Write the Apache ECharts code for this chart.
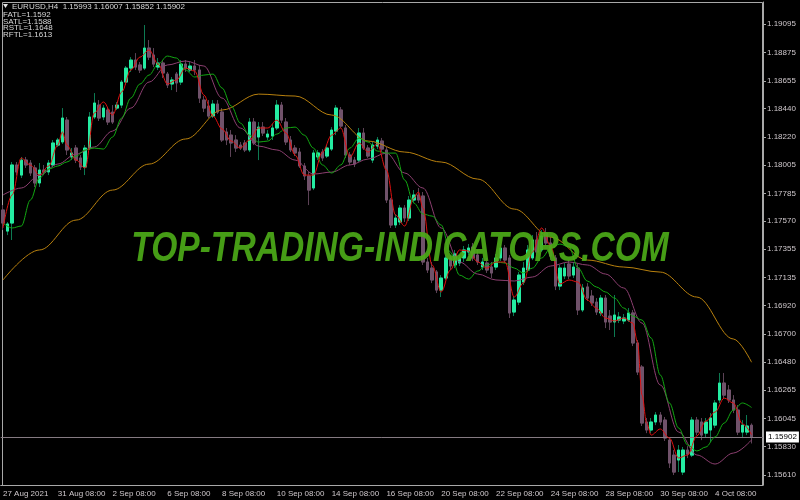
<!DOCTYPE html>
<html>
<head>
<meta charset="utf-8">
<script src="https://cdn.jsdelivr.net/npm/echarts@6/dist/echarts.min.js"></script>
<style>
  html, body { margin: 0; padding: 0; background: #000; }
  #chart { width: 800px; height: 500px; }
</style>
</head>
<body>
<div id="chart"></div>
<script>
// EURUSD H4 bars, one per slot: [open, close, low, high]
const ohlc = [
  [1.17657, 1.17556, 1.17502, 1.17695], [1.17494, 1.17549, 1.17463, 1.17564], [1.17556, 1.18005, 1.17425, 1.18028],
  [1.18005, 1.17951, 1.17927, 1.18028], [1.17927, 1.18043, 1.17904, 1.18067], [1.18043, 1.18005, 1.17982, 1.18067],
  [1.18020, 1.17943, 1.17920, 1.18043], [1.17982, 1.17866, 1.17835, 1.18005], [1.17866, 1.17966, 1.17835, 1.18020],
  [1.17966, 1.17951, 1.17927, 1.18005], [1.17951, 1.18020, 1.17927, 1.18043], [1.18005, 1.18175, 1.17989, 1.18198],
  [1.18159, 1.18198, 1.18144, 1.18214], [1.18183, 1.18368, 1.18167, 1.18445], [1.18352, 1.18121, 1.18082, 1.18376],
  [1.18067, 1.18098, 1.18043, 1.18136], [1.18136, 1.18043, 1.18020, 1.18159], [1.18059, 1.17989, 1.17966, 1.18082],
  [1.17989, 1.18136, 1.17927, 1.18159], [1.18136, 1.18376, 1.18121, 1.18414], [1.18376, 1.18484, 1.18360, 1.18561],
  [1.18468, 1.18368, 1.18345, 1.18507], [1.18376, 1.18445, 1.18352, 1.18468], [1.18430, 1.18337, 1.18314, 1.18453],
  [1.18414, 1.18337, 1.18322, 1.18468], [1.18445, 1.18468, 1.18430, 1.18492], [1.18468, 1.18646, 1.18445, 1.18662],
  [1.18646, 1.18754, 1.18623, 1.18770], [1.18754, 1.18816, 1.18724, 1.18839], [1.18816, 1.18762, 1.18739, 1.18870],
  [1.18778, 1.18739, 1.18716, 1.18801], [1.18754, 1.18909, 1.18739, 1.19087], [1.18909, 1.18839, 1.18816, 1.18971],
  [1.18855, 1.18785, 1.18762, 1.18909], [1.18762, 1.18793, 1.18739, 1.18832], [1.18793, 1.18716, 1.18677, 1.18816],
  [1.18708, 1.18623, 1.18600, 1.18724], [1.18631, 1.18662, 1.18584, 1.18685], [1.18708, 1.18639, 1.18569, 1.18724],
  [1.18646, 1.18785, 1.18623, 1.18816], [1.18785, 1.18754, 1.18724, 1.18816], [1.18739, 1.18770, 1.18724, 1.18801],
  [1.18770, 1.18739, 1.18700, 1.18816], [1.18739, 1.18522, 1.18484, 1.18778], [1.18507, 1.18445, 1.18414, 1.18538],
  [1.18461, 1.18383, 1.18368, 1.18507], [1.18383, 1.18476, 1.18368, 1.18507], [1.18476, 1.18414, 1.18399, 1.18507],
  [1.18414, 1.18198, 1.18183, 1.18445], [1.18260, 1.18198, 1.18159, 1.18291], [1.18236, 1.18175, 1.18067, 1.18275],
  [1.18198, 1.18136, 1.18105, 1.18236], [1.18159, 1.18136, 1.18121, 1.18183], [1.18175, 1.18121, 1.18105, 1.18198],
  [1.18121, 1.18337, 1.18105, 1.18368], [1.18337, 1.18175, 1.18159, 1.18368], [1.18221, 1.18298, 1.18043, 1.18337],
  [1.18298, 1.18252, 1.18229, 1.18337], [1.18221, 1.18244, 1.18198, 1.18275], [1.18229, 1.18291, 1.18198, 1.18322],
  [1.18291, 1.18468, 1.18275, 1.18507], [1.18468, 1.18352, 1.18329, 1.18492], [1.18337, 1.18183, 1.18159, 1.18368],
  [1.18198, 1.18121, 1.18105, 1.18229], [1.18136, 1.18098, 1.18074, 1.18159], [1.18105, 1.17997, 1.17982, 1.18136],
  [1.17997, 1.17920, 1.17889, 1.18020], [1.17920, 1.17811, 1.17695, 1.17951], [1.17827, 1.18098, 1.17811, 1.18121],
  [1.18067, 1.18098, 1.18043, 1.18121], [1.18105, 1.18059, 1.18036, 1.18128], [1.18074, 1.18136, 1.18059, 1.18159],
  [1.18128, 1.18275, 1.18113, 1.18298], [1.18267, 1.18445, 1.18236, 1.18468], [1.18430, 1.18306, 1.18291, 1.18453],
  [1.18291, 1.18082, 1.18059, 1.18314], [1.18082, 1.18028, 1.18005, 1.18105], [1.18043, 1.18012, 1.17989, 1.18067],
  [1.18043, 1.18252, 1.18028, 1.18291], [1.18252, 1.18136, 1.18121, 1.18291], [1.18136, 1.18074, 1.18059, 1.18159],
  [1.18043, 1.18159, 1.18020, 1.18183], [1.18151, 1.18198, 1.18128, 1.18221], [1.18190, 1.18128, 1.18105, 1.18214],
  [1.18121, 1.17734, 1.17711, 1.18144], [1.17734, 1.17541, 1.17518, 1.17750], [1.17541, 1.17595, 1.17518, 1.17626],
  [1.17564, 1.17672, 1.17541, 1.17695], [1.17672, 1.17595, 1.17564, 1.17695], [1.17595, 1.17734, 1.17572, 1.17765],
  [1.17734, 1.17773, 1.17711, 1.17811], [1.17773, 1.17734, 1.17711, 1.17827], [1.17765, 1.17255, 1.17232, 1.17796],
  [1.17255, 1.17193, 1.17170, 1.17286], [1.17208, 1.17116, 1.17092, 1.17255], [1.17178, 1.17038, 1.17015, 1.17193],
  [1.17038, 1.17131, 1.16984, 1.17154], [1.17131, 1.17286, 1.17116, 1.17309], [1.17286, 1.17224, 1.17193, 1.17309],
  [1.17232, 1.17317, 1.17208, 1.17348], [1.17247, 1.17286, 1.17224, 1.17309], [1.17286, 1.17348, 1.17255, 1.17379],
  [1.17332, 1.17363, 1.17309, 1.17394], [1.17371, 1.17286, 1.17262, 1.17402], [1.17309, 1.17255, 1.17232, 1.17348],
  [1.17216, 1.17255, 1.17193, 1.17286], [1.17247, 1.17193, 1.17170, 1.17286], [1.17216, 1.17170, 1.17131, 1.17255],
  [1.17216, 1.17286, 1.17193, 1.17317], [1.17286, 1.17363, 1.17262, 1.17394], [1.17363, 1.17270, 1.17247, 1.17386],
  [1.17286, 1.16861, 1.16822, 1.17309], [1.16868, 1.16961, 1.16837, 1.16992], [1.16945, 1.17154, 1.16922, 1.17178],
  [1.17100, 1.17208, 1.17077, 1.17255], [1.17193, 1.17348, 1.17178, 1.17386], [1.17286, 1.17425, 1.17270, 1.17463],
  [1.17425, 1.17332, 1.17309, 1.17487], [1.17348, 1.17456, 1.17332, 1.17502], [1.17479, 1.17402, 1.17379, 1.17518],
  [1.17402, 1.17301, 1.17270, 1.17448], [1.17286, 1.17069, 1.17038, 1.17309], [1.17069, 1.17208, 1.17038, 1.17232],
  [1.17147, 1.17208, 1.17123, 1.17247], [1.17239, 1.17147, 1.17123, 1.17270], [1.17154, 1.17216, 1.17131, 1.17255],
  [1.17208, 1.16884, 1.16845, 1.17239], [1.16884, 1.17054, 1.16868, 1.17085], [1.17062, 1.16976, 1.16953, 1.17092],
  [1.16992, 1.16938, 1.16915, 1.17038], [1.16945, 1.16868, 1.16845, 1.16976], [1.16861, 1.16976, 1.16837, 1.17000],
  [1.16976, 1.16791, 1.16744, 1.17000], [1.16837, 1.16791, 1.16729, 1.16884], [1.16791, 1.16845, 1.16675, 1.17000],
  [1.16806, 1.16830, 1.16783, 1.16868], [1.16799, 1.16822, 1.16775, 1.16853], [1.16806, 1.16861, 1.16791, 1.16899],
  [1.16861, 1.16629, 1.16605, 1.16884], [1.16629, 1.16404, 1.16381, 1.16652], [1.16443, 1.16010, 1.15987, 1.16458],
  [1.16018, 1.15956, 1.15932, 1.16049], [1.15956, 1.16018, 1.15932, 1.16049], [1.16018, 1.16072, 1.15994, 1.16095],
  [1.16072, 1.16018, 1.15994, 1.16095], [1.16033, 1.15894, 1.15871, 1.16057], [1.15878, 1.15701, 1.15662, 1.15902],
  [1.15762, 1.15631, 1.15608, 1.15801], [1.15724, 1.15801, 1.15631, 1.15840], [1.15631, 1.15801, 1.15608, 1.15825],
  [1.15801, 1.15770, 1.15739, 1.15832], [1.15762, 1.16033, 1.15747, 1.16057], [1.16033, 1.15940, 1.15917, 1.16057],
  [1.16018, 1.15917, 1.15878, 1.16049], [1.15932, 1.16018, 1.15902, 1.16049], [1.15956, 1.16049, 1.15863, 1.16087],
  [1.15994, 1.16165, 1.15971, 1.16188], [1.16188, 1.16319, 1.16165, 1.16397], [1.16319, 1.16226, 1.16203, 1.16397],
  [1.16265, 1.16188, 1.16165, 1.16304], [1.16188, 1.16110, 1.16087, 1.16226], [1.16110, 1.15940, 1.15917, 1.16149],
  [1.15940, 1.15994, 1.15894, 1.16033], [1.15940, 1.15987, 1.15917, 1.16072], [1.15993, 1.15902, 1.15852, 1.16007]
];

// indicator lines, [bar index, value]
const fatl = [
  [0, 1.17518], [2, 1.17773], [4, 1.18059], [6, 1.18005], [8, 1.17927], [10, 1.17997], [12, 1.18159], [13, 1.18260],
  [14, 1.18159], [16, 1.18043], [18, 1.17981], [20, 1.18407], [22, 1.18492], [24, 1.18391], [26, 1.18569], [28, 1.18739],
  [30, 1.18839], [32, 1.18894], [34, 1.18785], [36, 1.18631], [38, 1.18662], [40, 1.18754], [42, 1.18731], [44, 1.18546],
  [46, 1.18383], [48, 1.18283], [50, 1.18190], [52, 1.18136], [54, 1.18198], [56, 1.18291], [58, 1.18291], [60, 1.18352],
  [62, 1.18252], [64, 1.18082], [66, 1.17927], [68, 1.17927], [70, 1.18105], [72, 1.18236], [74, 1.18291], [76, 1.18066],
  [78, 1.18175], [80, 1.18105], [82, 1.18167], [84, 1.17966], [86, 1.17618], [88, 1.17533], [90, 1.17749], [91, 1.17796],
  [92, 1.17672], [94, 1.17232], [96, 1.17023], [98, 1.17193], [100, 1.17348], [102, 1.17340], [104, 1.17255], [106, 1.17208],
  [108, 1.17255], [110, 1.17255], [112, 1.16984], [114, 1.17092], [116, 1.17332], [118, 1.17518], [120, 1.17378], [122, 1.17085],
  [124, 1.17116], [126, 1.17100], [128, 1.16961], [130, 1.16899], [132, 1.16822], [134, 1.16799], [136, 1.16822], [138, 1.16783],
  [139, 1.16636], [140, 1.16226], [141, 1.16010], [142, 1.15917], [144, 1.15964], [146, 1.15894], [148, 1.15740], [150, 1.15763],
  [152, 1.15910], [154, 1.16026], [156, 1.16095], [158, 1.16203], [160, 1.16165], [162, 1.16003], [164, 1.1592]
];
const satl = [
  [0, 1.17773], [4, 1.17827], [8, 1.17927], [12, 1.18012], [16, 1.18090], [20, 1.18144], [24, 1.18267], [28, 1.18445],
  [32, 1.18646], [36, 1.18778], [40, 1.18809], [44, 1.18770], [48, 1.18522], [52, 1.18291], [56, 1.18151], [60, 1.18121],
  [64, 1.18043], [68, 1.17935], [72, 1.17950], [76, 1.18005], [80, 1.18051], [84, 1.18097], [88, 1.17943], [92, 1.17827],
  [96, 1.17518], [100, 1.17255], [104, 1.17162], [108, 1.17116], [112, 1.17108], [116, 1.17139], [120, 1.17224], [124, 1.17255],
  [128, 1.17232], [132, 1.17162], [136, 1.17054], [140, 1.16783], [144, 1.16304], [148, 1.15941], [152, 1.15763], [156, 1.15693],
  [160, 1.15778], [164, 1.1588]
];
const rstl = [
  [0, 1.17116], [8, 1.17348], [16, 1.17579], [24, 1.17811], [32, 1.18012], [40, 1.18206], [48, 1.18430], [56, 1.18553],
  [64, 1.18538], [72, 1.18391], [80, 1.18190], [88, 1.18105], [96, 1.18028], [104, 1.17896], [112, 1.17664], [120, 1.17448],
  [128, 1.17270], [136, 1.17216], [144, 1.17177], [152, 1.16984], [160, 1.16660], [164, 1.1648]
];
const rftl = [
  [0, 1.17556], [2, 1.17518], [4, 1.17533], [6, 1.17734], [8, 1.17904], [10, 1.17974], [12, 1.17997], [14, 1.18028],
  [16, 1.18074], [18, 1.18121], [20, 1.18136], [22, 1.18128], [24, 1.18221], [26, 1.18368], [28, 1.18522], [30, 1.18631],
  [32, 1.18700], [34, 1.18785], [36, 1.18847], [38, 1.18832], [40, 1.18739], [42, 1.18685], [44, 1.18700], [46, 1.18708],
  [48, 1.18600], [50, 1.18461], [52, 1.18329], [54, 1.18236], [56, 1.18182], [58, 1.18190], [60, 1.18244], [62, 1.18291],
  [64, 1.18298], [66, 1.18236], [68, 1.18136], [70, 1.18005], [72, 1.17943], [74, 1.18005], [76, 1.18136], [78, 1.18213],
  [80, 1.18182], [82, 1.18113], [84, 1.18097], [86, 1.18097], [88, 1.17889], [90, 1.17711], [92, 1.17626], [94, 1.17610],
  [96, 1.17541], [98, 1.17332], [100, 1.17154], [102, 1.17123], [104, 1.17185], [106, 1.17232], [108, 1.17255], [110, 1.17247],
  [112, 1.17208], [114, 1.17170], [116, 1.17208], [118, 1.17286], [120, 1.17363], [122, 1.17394], [124, 1.17371], [126, 1.17208],
  [128, 1.17108], [130, 1.17062], [132, 1.17023], [134, 1.16976], [136, 1.16899], [138, 1.16837], [140, 1.16806], [142, 1.16667],
  [144, 1.16381], [146, 1.16165], [148, 1.15972], [150, 1.15840], [152, 1.15794], [154, 1.15825], [156, 1.15902], [158, 1.16010],
  [160, 1.16111], [162, 1.16165], [164, 1.1613]
];

const timeLabels = ['27 Aug 2021', '31 Aug 08:00', '2 Sep 08:00', '6 Sep 08:00', '8 Sep 08:00', '10 Sep 08:00',
  '14 Sep 08:00', '16 Sep 08:00', '20 Sep 08:00', '22 Sep 08:00', '24 Sep 08:00', '28 Sep 08:00', '30 Sep 08:00', '4 Oct 08:00'];
const priceTicks = [1.19095, 1.18875, 1.18655, 1.18440, 1.18220, 1.18005, 1.17785, 1.17570, 1.17355,
  1.17135, 1.16920, 1.16700, 1.16480, 1.16265, 1.16045, 1.15830, 1.15610];
const lastPrice = 1.15902;
const slotCount = 167;   // bar slots on screen, incl. the empty shift at the right
const labelStep = 12;    // one time label every 12 bars

const slots = Array.from({ length: slotCount }, (_, i) => i);
// bodies only, drawn over the full candles so wicks keep their darker colour
const bodies = ohlc.map(([o, c]) => [o, c, Math.min(o, c), Math.max(o, c)]);

const font = '"Liberation Sans", Arial, sans-serif';
const last = ohlc[ohlc.length - 1];
const header = 'EURUSD,H4  ' + [last[0], last[3], last[2], last[1]].map(v => v.toFixed(5)).join(' ');
const legendRows = [
  ['FATL', fatl], ['SATL', satl], ['RSTL', rstl], ['RFTL', rftl]
].map(([name, s]) => name + '=' + s[s.length - 1][1].toFixed(4));

const lineSeries = (name, data, color) => ({
  name, type: 'line', data, showSymbol: false, smooth: 0.35, smoothMonotone: 'x',
  lineStyle: { color, width: 1 }, z: 5, silent: true
});

// bid line with its price box on the axis (precision: markers round to 2 decimals otherwise)
const bidLine = {
  silent: true, symbol: ['none', 'none'], precision: 5,
  lineStyle: { color: '#857a82', width: 1, type: 'solid' },
  label: {
    show: true, position: 'end', distance: 3, formatter: () => lastPrice.toFixed(5),
    color: '#000', backgroundColor: '#fff', padding: [2, 2, 1, 2], fontSize: 8, fontFamily: font
  },
  data: [{ yAxis: lastPrice }]
};

const chart = echarts.init(document.getElementById('chart'));
chart.setOption({
  backgroundColor: '#000',
  animation: false,
  grid: { left: 0, right: 37, top: 2, bottom: 15 },
  xAxis: {
    type: 'category',
    data: slots,
    boundaryGap: true,
    axisLine: { lineStyle: { color: '#a8a8a8' } },
    axisTick: { alignWithLabel: true, length: 3, interval: i => i % labelStep === 0, lineStyle: { color: '#a8a8a8' } },
    axisLabel: {
      interval: i => i % labelStep === 0,
      formatter: v => timeLabels[v / labelStep] || '',
      align: 'left', margin: 5, color: '#cfc8cc', fontSize: 8, fontFamily: font
    },
    splitLine: { show: false }
  },
  yAxis: {
    type: 'value',
    position: 'right',
    min: 1.15531,
    max: 1.19265,
    axisLine: { show: true, lineStyle: { color: '#a8a8a8' } },
    axisTick: { show: true, length: 3, customValues: priceTicks, lineStyle: { color: '#a8a8a8' } },
    axisLabel: { customValues: priceTicks, formatter: v => v.toFixed(5), margin: 4, color: '#cfc8cc', fontSize: 8, fontFamily: font },
    splitLine: { show: false }
  },
  graphic: [
    { type: 'rect', shape: { x: 2.5, y: 2.5, width: 760, height: 483 }, style: { fill: 'none', stroke: '#a8a8a8', lineWidth: 1 }, silent: true, z: 1 },
    { type: 'polygon', shape: { points: [[3, 4], [8, 4], [5.5, 8]] }, style: { fill: '#e0e0e0' }, z: 10 },
    { type: 'text', x: 12, y: 6.5, style: { text: header, fill: '#d8d8d8', font: '8px ' + font, textVerticalAlign: 'middle', verticalAlign: 'middle' }, z: 10 },
    ...legendRows.map((t, k) => ({
      type: 'text', x: 3, y: 14.5 + k * 6.8,
      style: { text: t, fill: '#d8d8d8', font: '8px ' + font, textVerticalAlign: 'middle', verticalAlign: 'middle' }, z: 10
    })),
    {
      type: 'text', x: 400, y: 249, scaleX: 0.8, z: 20, silent: true,
      style: {
        text: 'TOP-TRADING-INDICATORS.COM', fill: 'rgba(76,170,24,0.92)',
        font: 'italic bold 42px ' + font,
        textAlign: 'center', align: 'center', textVerticalAlign: 'middle', verticalAlign: 'middle'
      }
    }
  ],
  series: [
    {
      name: 'wicks', type: 'candlestick', data: ohlc, barWidth: 3, z: 2,
      itemStyle: { color: '#0d7a52', color0: '#5c4256', borderColor: '#0d7a52', borderColor0: '#5c4256', borderWidth: 1 }
    },
    {
      name: 'bodies', type: 'candlestick', data: bodies, barWidth: 3, z: 3,
      itemStyle: { color: '#24eca2', color0: '#70526a', borderColor: '#24eca2', borderColor0: '#70526a', borderWidth: 1 }
    },
    Object.assign(lineSeries('RSTL', rstl, '#b8800e'), { markLine: bidLine }),
    lineSeries('SATL', satl, '#8c3f70'),
    lineSeries('RFTL', rftl, '#12a812'),
    lineSeries('FATL', fatl, '#e01010')
  ]
});
</script>
</body>
</html>
